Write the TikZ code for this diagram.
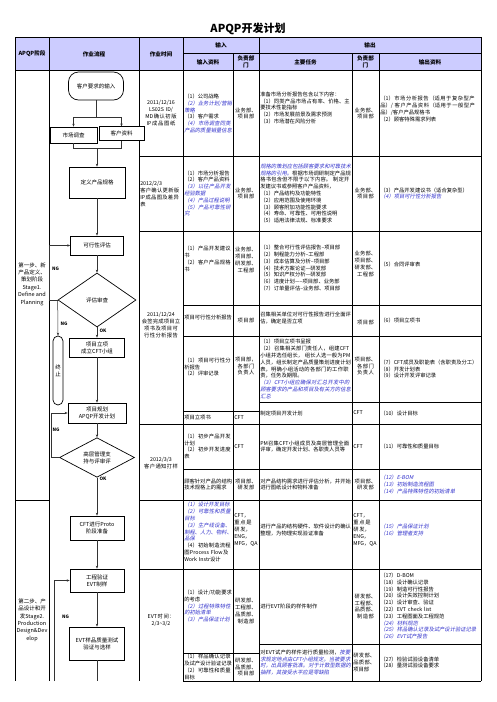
\documentclass[tikz,border=0pt]{standalone}
\usepackage{fontspec}
\setmainfont{Noto Sans CJK SC}
\newfontfamily\slfont[FakeSlant=0.2]{Noto Sans CJK SC}
\XeTeXlinebreaklocale "zh"
\XeTeXlinebreakskip = 0pt plus 1pt
\usetikzlibrary{shapes.geometric,arrows.meta}
\definecolor{hdr}{RGB}{204,204,255}
\definecolor{tblue}{RGB}{51,51,204}
\newcommand\fs{\fontsize{5.3}{6.8}\selectfont}
\newcommand\bl[1]{{\color{tblue}\slfont #1}}
\tikzset{
  tbl/.style={line width=0.6pt, draw=black},
  ct/.style={font=\fs, inner sep=0.6pt, align=left, anchor=west},
  cc/.style={font=\fs, inner sep=0.6pt, align=center},
  hd/.style={font=\fontsize{5.6}{6.4}\selectfont\bfseries, inner sep=0.5pt, align=center},
  fbox/.style={draw, fill=white, line width=0.7pt, font=\fontsize{5.5}{7}\selectfont, align=center, inner sep=1pt},
  dia/.style={draw, fill=white, diamond, line width=0.7pt, font=\fontsize{5.5}{7}\selectfont, align=center, inner sep=0pt},
  lab/.style={font=\fontsize{4.6}{5}\selectfont\bfseries, inner sep=0.5pt},
  conn/.style={line width=0.5pt, draw=black!80},
  arr/.style={conn, -{Stealth[length=3pt,width=2.4pt]}},
}
\begin{document}
\begin{tikzpicture}[x=1pt,y=-1pt]
\useasboundingbox (0,0) rectangle (496,702);
\fill[white] (0,0) rectangle (496,702);
\fill[hdr] (15,37) rectangle (481,70.7);
\node[font=\fontsize{11}{12}\selectfont\bfseries, inner sep=0pt] (title) at (248,29) {APQP开发计划};

% ---------- grid ----------
\draw[tbl] (15,37) -- (481,37);
\draw[tbl] (183,53) -- (481,53);
\draw[tbl] (15,70.7) -- (481,70.7);
\draw[tbl] (139,156) -- (481,156);
\draw[tbl] (139,231) -- (481,231);
\draw[tbl] (183,305) -- (481,305);
\draw[tbl] (183,336) -- (481,336);
\draw[tbl] (183,411) -- (259,411);
\draw[tbl] (259,402) -- (481,402);
\draw[tbl] (139,424) -- (481,424);
\draw[tbl] (183,469) -- (481,469);
\draw[tbl] (15,500) -- (49,500);
\draw[tbl] (139,500) -- (481,500);
\draw[tbl] (139,569) -- (481,569);
\draw[tbl] (183,653) -- (259,653);
\draw[tbl] (259,644) -- (481,644);
\draw[tbl] (183,681) -- (481,681);
\foreach \x in {15,49,139,183,259,481} \draw[tbl] (\x,37) -- (\x,681);
\foreach \x in {233,352,379} \draw[tbl] (\x,53) -- (\x,681);

% ---------- header ----------
\node[hd] (hA) at (32,54) {APQP阶段};
\node[hd] (hB) at (94,54) {作业流程};
\node[hd] (hC) at (161,54) {作业时间};
\node[hd] (hIn) at (221,45) {输入};
\node[hd] (hOut) at (370,45) {输出};
\node[hd] (hI1) at (208,62) {输入资料};
\node[hd] (hI2) at (246,62) {负责部\\门};
\node[hd] (hO1) at (305.5,62) {主要任务};
\node[hd] (hO2) at (365.5,62) {负责部\\门};
\node[hd] (hO3) at (430,62) {输出资料};

% ---------- stage column ----------
\node[cc, font=\fontsize{5.5}{7.4}\selectfont] (st1) at (32,284) {第一步、新\\产品定义、\\策划阶段\\Stage1.\\Define and\\Planning};
\node[cc, font=\fontsize{5.5}{7.4}\selectfont] (st2) at (32,620) {第二步、产\\品设计和开\\发Stage2.\\Production\\Design\&Dev\\elop};

% ---------- time column ----------
\node[cc, text width=42] (t1) at (161,113) {2011/12/16 LS02S ID/MD确认初版IP成品图纸};
\node[ct, text width=42] (t2) at (139.5,194) {2012/2/3\\客户确认更新版IP成品图及差异表};
\node[cc, text width=42] (t3) at (161,325) {2011/12/24\\会签完成项目立项书及项目可行性分析报告};
\node[cc, text width=42] (t4) at (161,463) {2012/3/3\\客户通知打样};
\node[cc, text width=42] (t5) at (161,620) {EVT时间：\\2/3\textasciitilde 3/2};

% ---------- row 1 ----------
\node[ct, text width=48] (r1i) at (183.5,113.4) {（1）公司战略\\\bl{（2）业务计划/营销策略}\\（3）客户需求\\\bl{（4）市场调查同类产品的质量销量信息}};
\node[cc, text width=25] (r1d) at (246,113.4) {业务部、项目部};
\node[ct, text width=91] (r1t) at (259.5,108) {准备市场分析报告包含以下内容：\\（1）同类产品市场占有率、价格、主要技术性能指标\\（2）市场发展前景及需求预测\\（3）市场潜在风险分析};
\node[cc, text width=25] (r1e) at (365.5,113.4) {业务部、项目部};
\node[ct, text width=100] (r1o) at (379.5,109) {（1）市场分析报告（适用于复杂型产品）/ 客户产品资料（适用于一般型产品）/客户产品规格书\\（2）顾客特殊需求列表};

% ---------- row 2 ----------
\node[ct, text width=48] (r2i) at (183.5,193.5) {（1）市场分析报告\\（2）客户产品资料\\\bl{（3）以往产品开发经验数据}\\\bl{（4）产品过程说明}\\\bl{（5）产品可靠性研究}};
\node[cc, text width=25] (r2d) at (246,193.5) {业务部、项目部};
\node[ct, text width=91] (r2t) at (259.5,193.5) {\bl{规格的策划应包括顾客要求和可靠技术规格的引用。}根据市场调研制定产品规格书包含但不限于以下内容。 制定开发建议书或参照客户产品资料，\\（1）产品结构及功能特性\\（2）应用范围及使用环境\\（3）顾客附加功能性能要求\\（4）寿命、可靠性、可用性说明\\（5）适用法律法规、标准要求};
\node[cc, text width=25] (r2e) at (365.5,193.5) {业务部、项目部};
\node[ct, text width=100] (r2o) at (379.5,193.5) {（3）产品开发建议书（适合复杂型）\\\bl{（4）项目可行性分析报告}};

% ---------- row 3 ----------
\node[ct, text width=48] (r3i) at (183.5,259) {（1）产品开发建议书\\（2）客户产品规格书};
\node[cc, text width=25] (r3d) at (246,260) {业务部、项目部、研发部、工程部};
\node[ct, text width=91] (r3t) at (259.5,268) {（1）整合可行性评估报告--项目部\\（2）制程能力分析--工程部\\（3）成本估算及分析--项目部\\（4）技术方案论证---研发部\\（5）知识产权分析---研发部\\（6）进度计划-----项目部、业务部\\（7）订单量评估--业务部、项目部};
\node[cc, text width=25] (r3e) at (365.5,264) {业务部、项目部、研发部、工程部};
\node[ct, text width=100] (r3o) at (379.5,264) {（5）合同评审表};

% ---------- row 4 ----------
\node[ct, text width=48] (r4i) at (183.5,318) {项目可行性分析报告};
\node[cc, text width=25] (r4d) at (246,320.5) {项目部};
\node[ct, text width=91] (r4t) at (259.5,318) {召集相关单位对可行性报告进行全面评估，确定是否立项};
\node[cc, text width=25] (r4e) at (365.5,322) {项目部};
\node[ct, text width=100] (r4o) at (379.5,320.5) {（6）项目立项书};

% ---------- row 5 ----------
\node[ct, text width=48] (r5i) at (183.5,367) {（1）项目可行性分析报告\\（2）评审记录};
\node[cc, text width=25] (r5d) at (246,366) {项目部，各部门负责人};
\begin{scope}
\clip (259.5,336.5) rectangle (351.5,401.5);
\node[ct, text width=91] (r5t) at (259.5,369) {（1）项目立项书呈报\\（2）召集相关部门责任人，组建CFT小组并选任组长， 组长人选一般为PM人员，组长制定产品质量策划进度计划表，明确小组活动的各部门的工作职责，任务及期限。\\\bl{（3）CFT小组应确保对汇总开发中的顾客要求的产品和项目及有关方的信息汇总}};
\end{scope}
\node[cc, text width=25] (r5e) at (365.5,366) {项目部、各部门负责人};
\node[ct, text width=100] (r5o) at (379.5,369) {（7）CFT成员及职能表（含职责及分工）\\（8）开发计划表\\（9）设计开发评审记录};

% ---------- row 6 ----------
\node[ct] (r6i) at (183.5,417.5) {项目立项书};
\node[ct] (r6d) at (233.5,417.5) {CFT};
\node[ct] (r6t) at (259.5,413) {制定项目开发计划};
\node[ct] (r6e) at (352.5,413) {CFT};
\node[ct] (r6o) at (379.5,413) {（10）设计目标};

% ---------- row 7 ----------
\node[ct, text width=48] (r7i) at (183.5,446.5) {（1）初步产品开发计划\\（2）初步开发进度表};
\node[ct] (r7d) at (233.5,446.5) {CFT};
\node[ct, text width=91] (r7t) at (259.5,446.5) {PM召集CFT小组成员及高层管理全面评审，确定开发计划、各职责人员等};
\node[ct] (r7e) at (352.5,446.5) {CFT};
\node[ct, text width=100] (r7o) at (379.5,446.5) {（11）可靠性和质量目标};

% ---------- row 8 ----------
\node[ct, text width=48] (r8i) at (183.5,484.5) {顾客针对产品的结构技术规格上的需求};
\node[cc, text width=25] (r8d) at (246,484.5) {项目部、研发部};
\node[ct, text width=91] (r8t) at (259.5,484.5) {对产品结构需求进行评估分析，并开始进行图纸设计和物料准备};
\node[cc, text width=25] (r8e) at (365.5,484.5) {项目部、研发部};
\node[ct, text width=100] (r8o) at (379.5,484.5) {\bl{（12）E-BOM}\\\bl{（13）初始制造流程图}\\\bl{（14）产品特殊特性的初始清单}};

% ---------- row 9 ----------
\begin{scope}
\clip (183.5,500.5) rectangle (232.5,568.5);
\node[ct, text width=48] (r9i) at (183.5,532) {\bl{（1）设计开发目标}\\\bl{（2）可靠性和质量目标}\\\bl{（3）生产线设备、制程、人力、物料、品保}\\（4）初始制造流程图Process Flow及Work Instr设计};
\end{scope}
\node[ct, text width=25] (r9d) at (233.5,530) {CFT，重点是研发，ENG，MFG，QA};
\node[ct, text width=91] (r9t) at (259.5,530) {进行产品的结构硬件、软件设计的确认整理，为物理实现验证准备};
\node[ct, text width=25] (r9e) at (352.5,530) {CFT，重点是研发，ENG，MFG，QA};
\node[ct, text width=100] (r9o) at (379.5,530) {\bl{（15）产品保证计划}\\\bl{（16）管理者支持}};

% ---------- row 10 ----------
\node[ct, text width=48] (r10i) at (183.5,606) {（1）设计/功能要求的考虑\\\bl{（2）过程特殊特性的初始清单}\\\bl{（3）产品保证计划}};
\node[cc, text width=25] (r10d) at (246,611) {研发部、工程部、品质部、制造部};
\node[ct, text width=91] (r10t) at (259.5,606.5) {进行EVT阶段的样件制作};
\node[cc, text width=25] (r10e) at (365.5,606.5) {研发部、工程部、品质部、制造部};
\begin{scope}
\clip (379.5,569.5) rectangle (480.5,643.5);
\node[ct, text width=100] (r10o) at (379.5,606) {（17）D-BOM\\（18）设计确认记录\\（19）制造可行性报告\\（20）设计失效控制计划\\（21）设计审查、验证\\（22）EVT check list\\（23）工程图面及工程规范\\\bl{（24）材料规范}\\\bl{（25）样品确认记录及试产设计验证记录}\\\bl{（26）EVT试产报告}};
\end{scope}

% ---------- row 11 ----------
\node[ct, text width=48] (r11i) at (183.5,667) {（1）样品确认记录及试产设计验证记录\\（2）可靠性和质量目标};
\node[cc, text width=25] (r11d) at (246,667) {研发部、品质部、项目部};
\node[ct, text width=91] (r11t) at (259.5,662.5) {对EVT试产的样件进行质量检测，\bl{按要求规定地点由CFT小组规定。当被要求时，出具顾客批准。对于计数型数据的抽样，其接受水平应是零缺陷}};
\node[ct, text width=25] (r11e) at (352.5,662.5) {研发部、品质部、项目部};
\node[ct, text width=100] (r11o) at (379.5,662.5) {（27）检验试验设备清单\\（28）量测试验设备要求};

% ---------- flow chart ----------
\node[fbox, rounded corners=10pt, minimum width=55, minimum height=28] (n1) at (96,86) {客户要求的输入};
\node[fbox, minimum width=47, minimum height=16] (n2) at (73.5,135) {市场调查};
\node[fbox, minimum width=45, minimum height=13.5] (n3) at (121.5,133.5) {客户资料};
\node[fbox, minimum width=56, minimum height=31] (n4) at (97,182.5) {定义产品规格};
\node[fbox, minimum width=53, minimum height=19] (n5) at (97,245.5) {可行性评估};
\node[dia, minimum width=78, minimum height=54] (n6) at (97,300) {评估审查};
\node[fbox, rounded corners=5pt, minimum width=10, minimum height=69, inner sep=0pt] (n7) at (58,370.5) {终\\止};
\node[fbox, minimum width=55, minimum height=19] (n8) at (97,347.5) {项目立项\\成立CFT小组};
\node[fbox, minimum width=58, minimum height=20] (n9) at (97,413) {项目规划\\APQP开发计划};
\node[dia, minimum width=75, minimum height=31] (n10) at (97,457.5) {高层管理支\\持与评审评};
\node[fbox, minimum width=54, minimum height=24] (n11) at (97,528) {CFT进行Proto\\阶段准备};
\node[fbox, minimum width=54, minimum height=23] (n12) at (97,580.5) {工程验证\\EVT制样};
\node[fbox, minimum width=55, minimum height=33] (n13) at (97,643.5) {EVT样品质量测试\\验证与选样};

\coordinate (s1) at (96,117);
\coordinate (s1l) at (73.5,117);
\coordinate (s1r) at (121.5,117);
\coordinate (j1) at (73.5,148);
\coordinate (j2) at (121.5,148);
\coordinate (jm) at (97,148);
\coordinate (bot) at (97,681);
\coordinate (ngb) at (54,681);

\draw[conn] (n1.south) -- (s1);
\draw[conn] (s1l) -- (s1r);
\draw[arr] (s1l) -- (n2.north);
\draw[arr] (s1r) -- (n3.north);
\draw[conn] (n2.south) -- (j1) -- (j2) -- (n3.south);
\draw[arr] (jm) -- (n4.north);
\draw[arr] (n4) -- (n5);
\draw[arr] (n5) -- (n6);
\draw[arr] (n6.west) -- ++(-8,0) |- (n5.west);
\draw[arr] (n6.west) -- (n7.north);
\draw[arr] (n6.south) -- (n8.north);
\draw[arr] (n8) -- (n9);
\draw[arr] (n9) -- (n10);
\draw[arr] (n10.west) -- ++(-8,0) |- (n9.west);
\draw[arr] (n10.south) -- (n11.north);
\draw[arr] (n11) -- (n12);
\draw[arr] (n12) -- (n13);
\draw[conn] (n13.south) -- (bot);
\draw[arr] (ngb) |- (n12.west);

\node[lab] (ng1) at (55.5,269) {NG};
\node[lab] (ng2) at (64,324) {NG};
\node[lab] (ok1) at (103,331) {OK};
\node[lab] (ng3) at (56,430) {NG};
\node[lab] (ok2) at (103,479) {OK};
\node[lab] (ng4) at (65.5,617) {NG};
\end{tikzpicture}
\end{document}
